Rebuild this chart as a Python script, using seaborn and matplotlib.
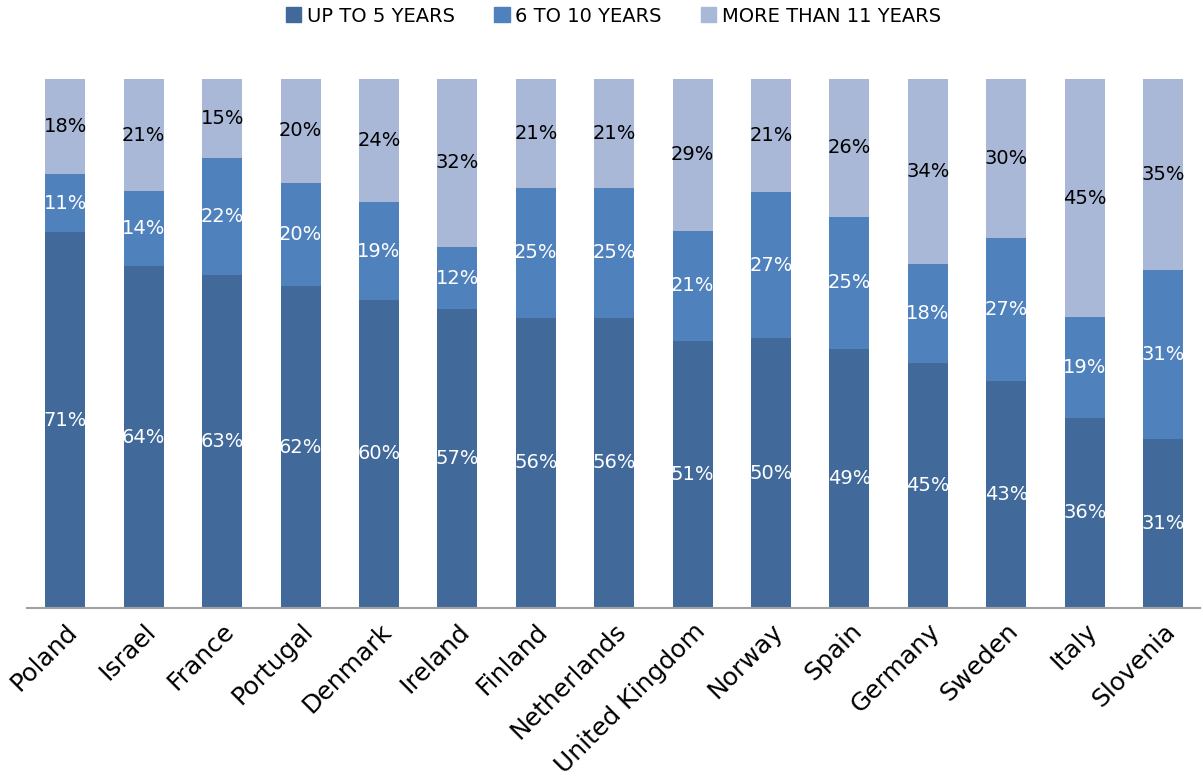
import numpy as np
import pandas as pd
import seaborn as sns
import matplotlib.pyplot as plt

countries = ["Poland", "Israel", "France", "Portugal", "Denmark", "Ireland", "Finland",
             "Netherlands", "United Kingdom", "Norway", "Spain", "Germany", "Sweden",
             "Italy", "Slovenia"]
up_to_5 = [71, 64, 63, 62, 60, 57, 56, 56, 51, 50, 49, 45, 43, 36, 31]
six_to_10 = [11, 14, 22, 20, 19, 12, 25, 25, 21, 27, 25, 18, 27, 19, 31]
more_11 = [18, 21, 15, 20, 24, 32, 21, 21, 29, 21, 26, 34, 30, 45, 35]

series_names = ["UP TO 5 YEARS", "6 TO 10 YEARS", "MORE THAN 11 YEARS"]
colors = ["#416A9B", "#4F81BD", "#A9B8D7"]

sns.set_theme(style="white")
plt.rcParams["font.family"] = ["DejaVu Sans"]
plt.rcParams["text.color"] = "black"
plt.rcParams["xtick.color"] = "black"

# 100% stacked: normalise each country to its own total
vals = np.array([up_to_5, six_to_10, more_11], dtype=float)
share = vals / vals.sum(axis=0) * 100
cum = np.cumsum(share, axis=0)
df = pd.DataFrame({"country": countries, "c1": cum[0], "c2": cum[1], "c3": cum[2]})

fig = plt.figure(figsize=(12.03, 7.83), dpi=100)
ax = fig.add_axes([0.0224, 0.2235, 0.9751, 0.6756])

# draw tallest first so the lower segments sit on top
for col, c in zip(["c3", "c2", "c1"], colors[::-1]):
    sns.barplot(data=df, x="country", y=col, color=c, saturation=1, width=0.51,
                linewidth=0, ax=ax)

txt_colors = ["white", "white", "black"]
for i in range(len(countries)):
    low = 0
    for k in range(3):
        mid = low + share[k, i] / 2
        ax.text(i, mid, f"{int(vals[k, i])}%", ha="center", va="center",
                color=txt_colors[k], fontsize=14)
        low = cum[k, i]

ax.set_ylim(0, 100)
ax.set_xlim(-0.49, 14.47)
ax.set_xlabel("")
ax.set_ylabel("")
ax.set_yticks([])
for s in ["top", "left", "right"]:
    ax.spines[s].set_visible(False)
ax.spines["bottom"].set_color("#A0A0A0")
ax.spines["bottom"].set_linewidth(1.5)
ax.tick_params(axis="x", length=0, pad=8, colors="black")
ax.set_xticks(range(len(countries)))
ax.set_xticklabels(countries, rotation=45, ha="right", rotation_mode="anchor", fontsize=18)

handles = [plt.Rectangle((0, 0), 1, 1, color=c) for c in colors]
fig.legend(handles, series_names, loc="upper center", bbox_to_anchor=(0.51, 1.014), ncol=3,
           frameon=False, fontsize=14, handlelength=0.8, handleheight=0.8,
           handletextpad=0.3, columnspacing=2.0, labelcolor="black")

fig.savefig("out.png", dpi=100)
